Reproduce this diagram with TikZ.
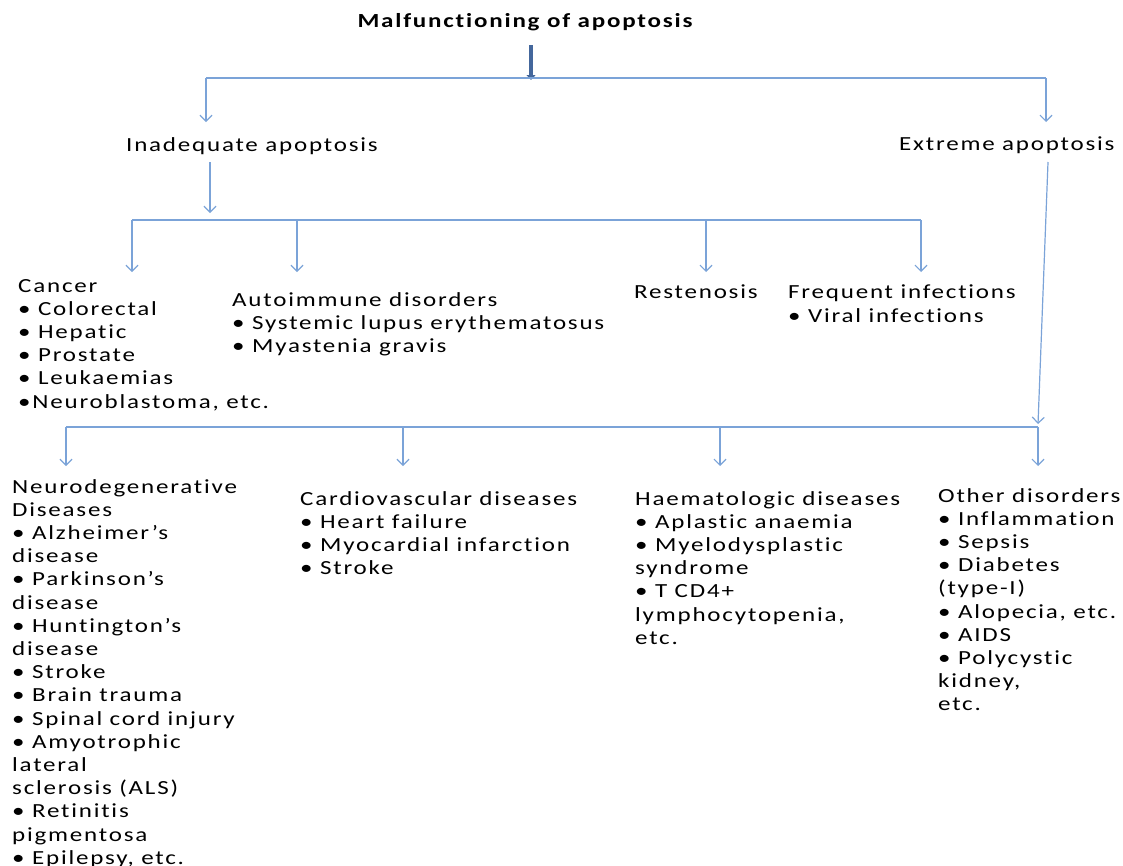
\documentclass[tikz,border=0pt]{standalone}
\usepackage{fontspec}
\usepackage{tikz}
\usetikzlibrary{arrows.meta}

\newfontfamily\bodyfont{Carlito}[LetterSpace=9,FakeStretch=1.25,Ligatures=NoCommon]
\newcommand{\body}{\bodyfont\fontsize{20}{23.2}\selectfont}
\newcommand{\headfont}{\bodyfont\bfseries\fontsize{20}{23.2}\selectfont}

\definecolor{linkblue}{HTML}{7BA3D8}
\definecolor{darkblue}{HTML}{44679C}

\tikzset{
  lbl/.style={anchor=north west, align=left, inner sep=0pt, font=\body},
  bar/.style={draw=linkblue, line width=1.2pt},
  link/.style={draw=linkblue, line width=1.2pt, -{Straight Barb[length=6pt,width=12pt]}},
  bigarrow/.style={draw=darkblue, line width=4pt, -{Triangle[length=5pt,width=9pt]}},
}

\begin{document}
\begin{tikzpicture}[x=1pt,y=-1pt]

  \useasboundingbox (0,0) rectangle (1123,865);

  % title and first split
  \node[font=\headfont, inner sep=0pt] (title) at (525,22) {Malfunctioning of apoptosis};
  \coordinate (t0) at (531,45);
  \coordinate (t1) at (531,80);
  \draw[bigarrow] (t0) -- (t1);

  \coordinate (b1l) at (206,78);
  \coordinate (b1r) at (1046,78);
  \coordinate (inadin) at (206,122);
  \coordinate (extrin) at (1046,122);
  \draw[bar] (b1l) -- (b1r);
  \draw[link] (b1l) -- (inadin);
  \draw[link] (b1r) -- (extrin);

  \node[lbl] (inad) at (126,137) {Inadequate apoptosis};
  \node[lbl] (extr) at (899,137) {Extreme apoptosis};

  % inadequate apoptosis
  \coordinate (i0) at (210,162);
  \coordinate (i1) at (210,213);
  \draw[link] (i0) -- (i1);

  \coordinate (b2l) at (132,220);
  \coordinate (b2a) at (297,220);
  \coordinate (b2b) at (706,220);
  \coordinate (b2r) at (921,220);
  \draw[bar] (b2l) -- (b2r);
  \draw[link] (b2l) -- (132,272);
  \draw[link] (b2a) -- (297,272);
  \draw[link] (b2b) -- (706,272);
  \draw[link] (b2r) -- (921,272);

  \node[lbl] (cancer) at (18,279) {Cancer\\
    \textbullet\ Colorectal\\
    \textbullet\ Hepatic\\
    \textbullet\ Prostate\\
    \textbullet\ Leukaemias\\
    \textbullet Neuroblastoma, etc.};
  \node[lbl] (auto) at (232,292) {Autoimmune disorders\\
    \textbullet\ Systemic lupus erythematosus\\
    \textbullet\ Myastenia gravis};
  \node[lbl] (resten) at (634,285) {Restenosis};
  \node[lbl] (freq) at (788,285) {Frequent infections\\
    \textbullet\ Viral infections};

  % extreme apoptosis
  \coordinate (e0) at (1048,162);
  \coordinate (e1) at (1038,424);
  \draw[link] (e0) -- (e1);

  \coordinate (b3l) at (66,427);
  \coordinate (b3a) at (403,427);
  \coordinate (b3b) at (720,427);
  \coordinate (b3r) at (1038,427);
  \draw[bar] (b3l) -- (b3r);
  \draw[link] (b3l) -- (66,466);
  \draw[link] (b3a) -- (403,466);
  \draw[link] (b3b) -- (720,466);
  \draw[link] (b3r) -- (1038,466);

  \node[lbl] (neuro) at (12,479) {Neurodegenerative\\
    Diseases\\
    \textbullet\ Alzheimer’s\\
    disease\\
    \textbullet\ Parkinson’s\\
    disease\\
    \textbullet\ Huntington’s\\
    disease\\
    \textbullet\ Stroke\\
    \textbullet\ Brain trauma\\
    \textbullet\ Spinal cord injury\\
    \textbullet\ Amyotrophic\\
    lateral\\
    sclerosis (ALS)\\
    \textbullet\ Retinitis\\
    pigmentosa\\
    \textbullet\ Epilepsy, etc.};
  \node[lbl] (cardio) at (300,491) {Cardiovascular diseases\\
    \textbullet\ Heart failure\\
    \textbullet\ Myocardial infarction\\
    \textbullet\ Stroke};
  \node[lbl] (haem) at (635,491) {Haematologic diseases\\
    \textbullet\ Aplastic anaemia\\
    \textbullet\ Myelodysplastic\\
    syndrome\\
    \textbullet\ T CD4+\\
    lymphocytopenia,\\
    etc.};
  \node[lbl] (other) at (938,488) {Other disorders\\
    \textbullet\ Inflammation\\
    \textbullet\ Sepsis\\
    \textbullet\ Diabetes\\
    (type-I)\\
    \textbullet\ Alopecia, etc.\\
    \textbullet\ AIDS\\
    \textbullet\ Polycystic\\
    kidney,\\
    etc.};

\end{tikzpicture}
\end{document}
